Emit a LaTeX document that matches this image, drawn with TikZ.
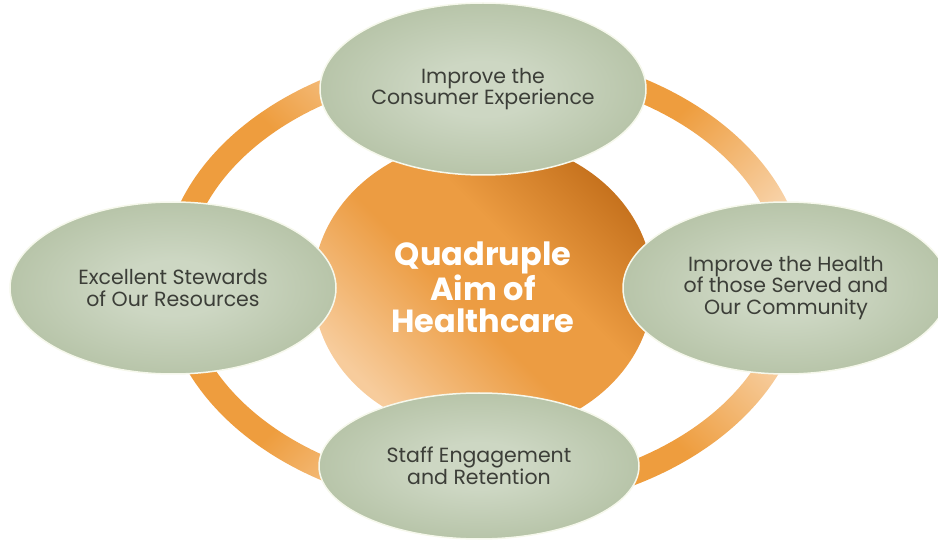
\documentclass[tikz,border=0pt]{standalone}
\usepackage{fontspec}
\usepackage{xcolor}
\usepackage{tikz}
\usetikzlibrary{shapes.geometric}
\newfontfamily\aimfont{Poppins}

\definecolor{sagelight}{RGB}{205,215,195}
\definecolor{sagedark}{RGB}{162,178,143}
\definecolor{ringorange}{RGB}{238,157,62}
\definecolor{ringpeach}{RGB}{249,218,184}
\definecolor{hubdark}{RGB}{196,112,28}
\definecolor{hubmid}{RGB}{236,156,66}
\definecolor{hublight}{RGB}{247,204,156}
\definecolor{labelgray}{RGB}{60,62,56}
\definecolor{rimwhite}{RGB}{246,248,236}

\pgfdeclareradialshading{sage}{\pgfpoint{0bp}{0bp}}{color(0bp)=(sagelight); color(8bp)=(sagelight); color(42bp)=(sagedark); color(50bp)=(sagedark)}
\pgfdeclareverticalshading{arcfade}{100bp}{color(0bp)=(ringorange); color(48bp)=(ringorange); color(76bp)=(ringpeach); color(100bp)=(ringpeach)}
\pgfdeclareverticalshading{hubfade}{100bp}{color(0bp)=(hublight); color(26bp)=(hublight); color(46bp)=(hubmid); color(58bp)=(hubmid); color(76bp)=(hubdark); color(100bp)=(hubdark)}

\tikzset{
	aim/.style = {ellipse, shading = sage, draw = rimwhite, line width = 1.5pt, inner sep = 0pt, text = labelgray, align = center, font = \aimfont\fontsize{20.5}{21.5}\selectfont, minimum width = 326pt, minimum height = 172pt},
	hub/.style = {ellipse, shading = hubfade, shading angle = -45, inner sep = 0pt, text = white, align = center, font = \aimfont\bfseries\fontsize{32}{32}\selectfont, minimum width = 340pt, minimum height = 296pt}
}

\begin{document}
\begin{tikzpicture}[x = 1pt, y = 1pt]
		\clip (0,0) rectangle (938,539);
		\coordinate (o) at (484,259);
		\foreach \a/\t in {0/-135, 90/-45, 180/-135, 270/-45}{
			\shade[shading = arcfade, shading angle = \t] (o) ++(\a:322 and 232)
				arc[start angle = \a, end angle = \a + 90, x radius = 322, y radius = 232]
				-- ++(\a + 270:24)
				arc[start angle = \a + 90, end angle = \a, x radius = 298, y radius = 208] -- cycle;
			}
		\node[hub] (aim) at (483,252) {Quadruple\\Aim of\\Healthcare};
		\node[aim] (consumer) at (483,450) {Improve the\\Consumer Experience};
		\node[aim] (stewards) at (173,251) {Excellent Stewards\\of Our Resources};
		\node[aim] (health) at (786,251) {Improve the Health\\of those Served and\\Our Community};
		\node[aim, minimum width = 320pt, minimum height = 146pt] (staff) at (479,73) {Staff Engagement\\and Retention};
	\end{tikzpicture}
\end{document}
